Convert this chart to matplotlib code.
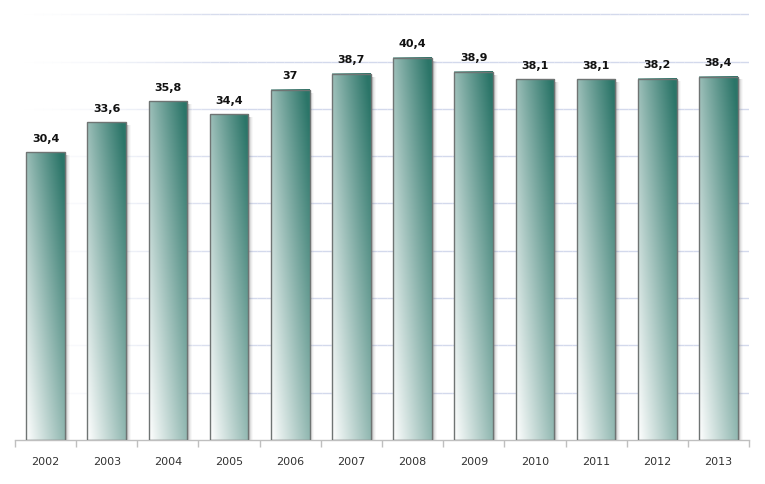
import matplotlib
matplotlib.use("Agg")
import matplotlib.pyplot as plt
import numpy as np
from matplotlib.patches import Rectangle

# data
years = ["2002", "2003", "2004", "2005", "2006", "2007",
         "2008", "2009", "2010", "2011", "2012", "2013"]
values = [30.4, 33.6, 35.8, 34.4, 37.0, 38.7, 40.4, 38.9, 38.1, 38.1, 38.2, 38.4]
labels = ["30,4", "33,6", "35,8", "34,4", "37", "38,7",
          "40,4", "38,9", "38,1", "38,1", "38,2", "38,4"]

fig = plt.figure(figsize=(7.65, 4.84), dpi=100)
ax = fig.add_axes([0.0196, 0.0909, 0.9595, 0.9091])
ax.set_xlim(-0.5, len(years) - 0.5)
ax.set_ylim(0, 46.5)

# gridlines fading in from the left
for g in range(5, 50, 5):
    xs = np.linspace(-0.5, len(years) - 0.5, 80)
    for i in range(len(xs) - 1):
        a = min(1.0, (i / 79) * 3.5) ** 1.5
        ax.plot(xs[i:i + 2], [g, g], color="#d3d9ec", lw=1.0, alpha=a, zorder=0,
                solid_capstyle="butt")

# gradient image for bars
nx, ny = 60, 200
xf = np.linspace(0, 1, nx)[None, :]
yf = np.linspace(0, 1, ny)[:, None]
t = np.clip(0.55 * xf ** 0.9 + 0.5 * yf, 0, 1)
t = t ** 1.1
white = np.array([1.0, 1.0, 1.0])
dark = np.array([0.17, 0.46, 0.41])
grad = white[None, None, :] * (1 - t[..., None]) + dark[None, None, :] * t[..., None]

w = 0.63
for i, v in enumerate(values):
    x0 = i - w / 2
    # shadow to the right
    for k, a in enumerate([0.5, 0.35, 0.2, 0.1, 0.04]):
        sh = Rectangle((x0 + w + k * 0.016, 0), 0.016, v - 0.3,
                       facecolor="#555555", edgecolor="none", alpha=a, zorder=1)
        ax.add_patch(sh)
    ax.imshow(grad, extent=[x0, x0 + w, 0, v], origin="lower",
              aspect="auto", zorder=2, interpolation="bilinear")
    ax.add_patch(Rectangle((x0, 0), w, v, facecolor="none",
                           edgecolor="#6f7473", lw=1.0, zorder=3))
    ax.text(i, v + 0.9, labels[i], ha="center", va="bottom",
            fontsize=8, fontweight="bold", color="#111111", zorder=4)

ax.set_xlim(-0.5, len(years) - 0.5)
ax.set_ylim(0, 46.5)

for s in ["top", "right", "left"]:
    ax.spines[s].set_visible(False)
ax.spines["bottom"].set_color("#bfbfbf")
ax.spines["bottom"].set_linewidth(1.0)
ax.set_yticks([])
ax.set_xticks(np.arange(-0.5, len(years), 1.0))
ax.set_xticklabels([])
ax.tick_params(axis="x", length=5, color="#bfbfbf", width=1.0)
ax.set_xticks(np.arange(len(years)), minor=True)
ax.set_xticklabels(years, minor=True, fontsize=8, color="#333333")
ax.tick_params(axis="x", which="minor", length=0, pad=12)

fig.savefig("out.png", dpi=100)
